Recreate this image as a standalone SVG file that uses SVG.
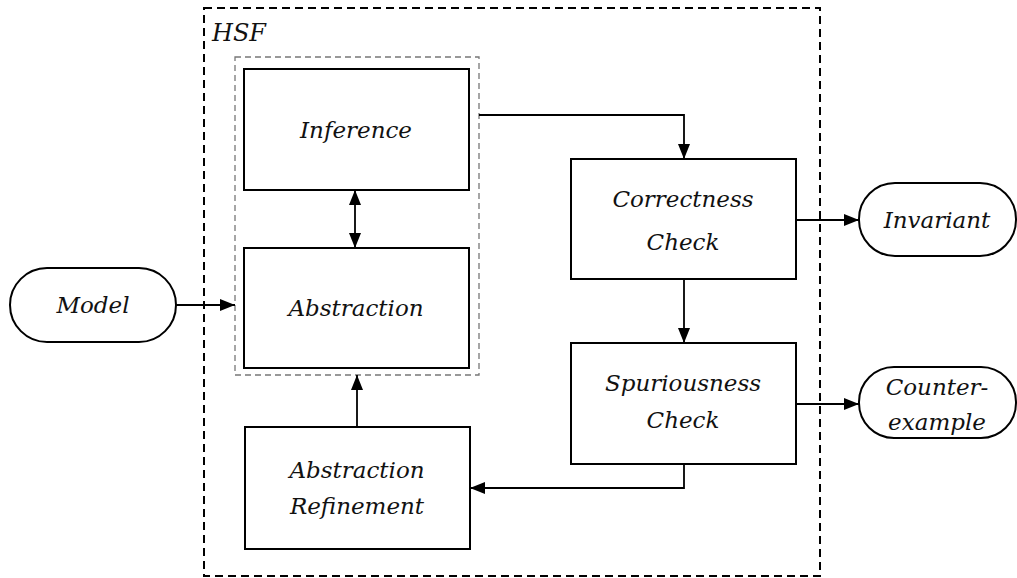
<svg xmlns="http://www.w3.org/2000/svg" width="1017" height="578" viewBox="0 0 1017 578">
<style>
.box{fill:#fff;stroke:#000;stroke-width:2}
.t{font-family:"DejaVu Serif","Liberation Serif",serif;font-style:italic;font-size:23px;fill:#111;text-anchor:middle}
.c{fill:none;stroke:#000;stroke-width:1.8}
</style>
<defs>
<marker id="ah" viewBox="0 0 15 12" refX="15" refY="6" markerWidth="15" markerHeight="12" markerUnits="userSpaceOnUse" orient="auto-start-reverse">
<path d="M0,0 L15,6 L0,12 Z" fill="#000"/>
</marker>
</defs>
<rect width="1017" height="578" fill="#fff"/>
<g id="hsf">
<rect x="204" y="8" width="616" height="568" fill="none" stroke="#000" stroke-width="2" stroke-dasharray="8,5"/>
<text x="212" y="41" class="t" style="text-anchor:start;font-size:24px">HSF</text>
</g>
<g id="group">
<rect x="235" y="57" width="244" height="318" fill="none" stroke="#777" stroke-width="1.3" stroke-dasharray="6,4"/>
</g>
<g id="inference">
<rect class="box" x="244" y="69" width="225" height="121"/>
<text class="t" x="356" y="138">Inference</text>
</g>
<g id="abstraction">
<rect class="box" x="244" y="248" width="225" height="120"/>
<text class="t" x="356" y="316">Abstraction</text>
</g>
<g id="refinement">
<rect class="box" x="245" y="427" width="225" height="122"/>
<text class="t" x="357" y="478">Abstraction</text>
<text class="t" x="357" y="514">Refinement</text>
</g>
<g id="correctness">
<rect class="box" x="571" y="159" width="225" height="120"/>
<text class="t" x="683" y="207">Correctness</text>
<text class="t" x="683" y="250">Check</text>
</g>
<g id="spuriousness">
<rect class="box" x="571" y="343" width="225" height="121"/>
<text class="t" x="683" y="391">Spuriousness</text>
<text class="t" x="683" y="428">Check</text>
</g>
<g id="model">
<rect class="box" x="10" y="268" width="166" height="74" rx="37"/>
<text class="t" x="93" y="313">Model</text>
</g>
<g id="invariant">
<rect class="box" x="859" y="183" width="157" height="73" rx="36"/>
<text class="t" x="937" y="228">Invariant</text>
</g>
<g id="counterexample">
<rect class="box" x="859" y="367" width="157" height="71" rx="35"/>
<text class="t" x="937" y="395">Counter-</text>
<text class="t" x="937" y="430">example</text>
</g>
<g id="connectors">
<path class="c" d="M176,305 H235" marker-end="url(#ah)"/>
<path class="c" d="M355,190 V248" marker-start="url(#ah)" marker-end="url(#ah)"/>
<path class="c" d="M479,115 H684 V159" marker-end="url(#ah)"/>
<path class="c" d="M796,220 H859" marker-end="url(#ah)"/>
<path class="c" d="M684,279 V343" marker-end="url(#ah)"/>
<path class="c" d="M796,404 H859" marker-end="url(#ah)"/>
<path class="c" d="M684,464 V488 H470" marker-end="url(#ah)"/>
<path class="c" d="M357,427 V375" marker-end="url(#ah)"/>
</g>
</svg>
